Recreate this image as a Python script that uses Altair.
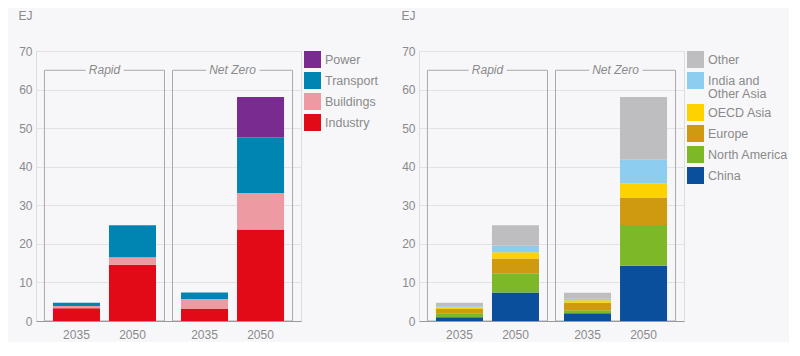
import altair as alt
import pandas as pd

# ---------------- data ----------------
scenarios = ["Rapid", "Net Zero"]
years = ["2035", "2050"]
bar_scenario = ["Rapid", "Rapid", "Net Zero", "Net Zero"]
bar_year = ["2035", "2050", "2035", "2050"]

sectors = ["Industry", "Buildings", "Transport", "Power"]          # stack order, bottom -> top
sector_colors = ["#e20a17", "#ee9aa2", "#0085b2", "#7a2b8f"]
industry = [3.3, 14.6, 3.1, 23.7]
buildings = [0.6, 1.9, 2.6, 9.5]
transport = [0.8, 8.3, 1.7, 14.4]
power = [0.0, 0.0, 0.0, 10.5]

regions = ["China", "North America", "Europe", "OECD Asia", "India and Other Asia", "Other"]
region_colors = ["#0a4f9b", "#7db828", "#cf9a10", "#fdd200", "#8ccdf0", "#bebec0"]
china = [1.0, 7.4, 2.0, 14.3]
north_america = [1.0, 5.0, 0.8, 10.6]
europe = [1.1, 3.8, 1.9, 7.1]
oecd_asia = [0.4, 1.6, 0.7, 3.7]
india_asia = [0.3, 1.7, 0.4, 6.1]
other = [0.9, 5.3, 1.5, 16.3]

y_ticks = [0, 10, 20, 30, 40, 50, 60, 70]
frame_top = 65

BG = "#f7f7f9"
TXT = "#8a8a8a"
FONT = "Liberation Sans"


def long_table(names, series):
    rows = []
    for rank, (name, vals) in enumerate(zip(names, series)):
        for s, yr, v in zip(bar_scenario, bar_year, vals):
            rows.append({"scenario": s, "year": yr, "cat": name, "rank": rank, "value": v})
    return pd.DataFrame(rows)


def x_enc():
    return alt.X(
        "scenario:N",
        sort=scenarios,
        scale=alt.Scale(paddingInner=0.0625, paddingOuter=0.066),
        axis=alt.Axis(labels=False, ticks=False, title=None, domain=True,
                      domainColor="#9a9a9a", grid=False),
    )


def xoff_enc():
    return alt.XOffset("year:N", sort=years,
                       scale=alt.Scale(paddingInner=0.1607, paddingOuter=0.1518))


def y_enc(stack=None):
    kw = {}
    if stack is None:
        kw["stack"] = None
    else:
        kw["stack"] = stack
    return alt.Y(
        "value:Q",
        scale=alt.Scale(domain=[0, 70], nice=False),
        axis=alt.Axis(values=y_ticks, title="EJ", titleAngle=0, titleAlign="left",
                      titleBaseline="top", titleX=-18, titleY=-41,
                      titleFontWeight="normal", titleFontSize=12, titleColor=TXT,
                      titleFont=FONT,
                      labelColor=TXT, labelFontSize=12, labelFont=FONT, labelPadding=4,
                      ticks=False, domain=False, grid=True, gridColor="#e2e2e4"),
        **kw,
    )


def panel(names, series, colors, label_expr=None):
    df = long_table(names, series)
    legend_order = list(reversed(names))
    legend_colors = list(reversed(colors))
    leg_kw = dict(title=None, orient="right", offset=3, symbolType="square",
                  symbolSize=289, symbolStrokeWidth=0, labelFontSize=12.5,
                  labelColor=TXT, labelFont=FONT, labelOffset=4, rowPadding=4,
                  padding=0, labelLimit=200)
    if label_expr:
        leg_kw["labelExpr"] = label_expr
    bars = alt.Chart(df).mark_bar(strokeWidth=0).encode(
        x=x_enc(),
        xOffset=xoff_enc(),
        y=y_enc(stack="zero"),
        color=alt.Color("cat:N", scale=alt.Scale(domain=legend_order, range=legend_colors),
                        legend=alt.Legend(**leg_kw)),
        order=alt.Order("rank:Q", sort="ascending"),
    )

    frame_df = pd.DataFrame({"scenario": scenarios,
                             "value": [frame_top] * len(scenarios),
                             "value2": [0] * len(scenarios)})
    frame = alt.Chart(frame_df).mark_rect(fill=None, stroke="#a9a9ab", strokeWidth=1).encode(
        x=x_enc(), y=y_enc(), y2="value2:Q"
    )
    halo = alt.Chart(frame_df).mark_text(
        fontStyle="italic", fontSize=12, font=FONT, stroke=BG, strokeWidth=8,
        fill=BG, baseline="middle"
    ).encode(x=x_enc(), y=y_enc(), text="scenario:N")
    label = alt.Chart(frame_df).mark_text(
        fontStyle="italic", fontSize=12, font=FONT, color=TXT, baseline="middle"
    ).encode(x=x_enc(), y=y_enc(), text="scenario:N")

    year_df = pd.DataFrame({"scenario": bar_scenario, "year": bar_year,
                            "value": [0] * len(bar_year)})
    year_lbl = alt.Chart(year_df).mark_text(
        fontSize=12, font=FONT, color=TXT, baseline="middle", dy=14
    ).encode(x=x_enc(), xOffset=xoff_enc(), y=y_enc(), text="year:N")

    return alt.layer(frame, halo, label, bars, year_lbl).properties(width=265, height=270)


left = panel(sectors, [industry, buildings, transport, power], sector_colors)
right = panel(regions, [china, north_america, europe, oecd_asia, india_asia, other],
              region_colors,
              label_expr="datum.label == 'India and Other Asia' ? ['India and', 'Other Asia'] : datum.label")

chart = alt.hconcat(left, right, spacing=20).resolve_scale(
    color="independent"
).resolve_legend(color="independent").properties(
    padding={"left": 9, "top": 0, "right": 0, "bottom": 0},
    background=BG,
).configure_view(stroke=None).configure(
    style={"guide-label": {"lineHeight": 13}}
)

chart.save("out.html", embed_options={"renderer": "svg", "actions": False})
